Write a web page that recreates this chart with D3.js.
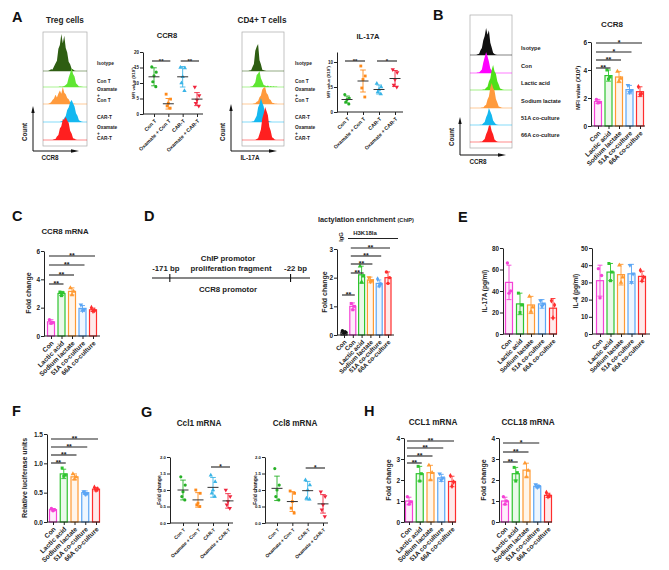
<!DOCTYPE html>
<html><head><meta charset="utf-8">
<script src="https://cdn.jsdelivr.net/npm/d3@7"></script>
<style>
body{margin:0;background:#fff}
svg{display:block;font-family:"Liberation Sans",Arial,Helvetica,sans-serif}
</style></head><body>
<svg id="c" width="669" height="570"></svg>
<script>
// ---------------- DATA ----------------
const groupsA = ["Con T","Oxamate + Con T","CAR-T","Oxamate + CAR-T"];
const groups5 = ["Con","Lactic acid","Sodium lactate","51A co-culture","66A co-culture"];
const groupsD = ["Con","Con","Lactic acid","Sodium lactate","51A co-culture","66A co-culture"];
const tregLabels = [["Isotype"],["Con T"],["Oxamate","+","Con T"],["CAR-T"],["Oxamate","+","CAR-T"]];
const bLabels = [["Isotype"],["Con"],["Lactic acid"],["Sodium lactate"],["51A co-culture"],["66A co-culture"]];

// flow histograms (relative counts per bin, 30 bins)
const tregIso   = [0,0,0,0,0.02,0.05,0.04,0.12,0.2,0.28,0.6,0.7,1.0,0.75,0.95,0.62,0.5,0.25,0.18,0.06,0.04,0.01,0,0,0,0,0,0,0,0];
const tregCon   = [0,0,0,0,0,0,0,0,0,0,0,0.02,0.01,0.03,0.05,0.1,0.18,0.5,0.72,1.0,0.68,0.55,0.2,0.12,0.03,0.03,0.01,0,0,0];
const tregOxCon = [0,0,0,0,0.04,0.1,0.24,0.32,0.55,0.38,0.62,0.8,0.6,1.0,0.66,0.58,0.36,0.28,0.1,0.07,0.02,0.01,0,0,0,0,0,0,0,0];
const tregCar   = [0,0,0,0,0,0,0,0,0,0,0,0,0.03,0.05,0.18,0.27,0.55,0.66,0.9,1.0,0.85,0.7,0.4,0.28,0.08,0.05,0.01,0,0,0];
const tregOxCar = [0,0,0,0,0,0,0,0.03,0.04,0.15,0.22,0.5,0.6,0.9,0.88,1.0,0.85,0.75,0.4,0.28,0.08,0.05,0.01,0,0,0,0,0,0,0];
const cd4Iso    = [0,0,0,0,0,0.02,0.03,0.15,0.26,0.75,0.9,1.0,0.4,0.25,0.05,0.03,0.01,0,0,0,0,0,0,0,0,0,0,0,0,0];
const cd4Con    = [0,0,0,0,0,0,0.03,0.04,0.15,0.3,0.75,0.85,1.0,0.55,0.35,0.12,0.1,0.04,0.09,0.02,0.07,0.02,0.05,0.01,0.03,0,0,0,0,0];
const cd4OxCon  = [0,0,0,0,0,0,0,0,0.03,0.04,0.13,0.18,0.4,0.5,0.85,0.95,1.0,0.65,0.55,0.3,0.24,0.08,0.06,0.02,0.01,0,0,0,0,0];
const cd4Car    = [0,0,0,0,0,0,0,0.02,0.03,0.15,0.26,0.6,0.75,1.0,0.8,0.65,0.3,0.18,0.05,0.03,0.01,0,0,0,0,0,0,0,0,0];
const cd4OxCar  = [0,0,0,0,0,0,0,0,0,0,0.03,0.05,0.18,0.32,0.65,0.8,1.0,0.88,0.75,0.4,0.28,0.08,0.05,0.01,0,0,0,0,0,0];
const bIso      = [0,0,0,0,0,0.03,0.05,0.18,0.26,0.55,0.7,1.0,0.75,0.92,0.45,0.28,0.08,0.04,0.01,0,0,0,0,0,0,0,0,0,0,0];
const bCon      = [0,0,0,0,0,0.02,0.02,0.1,0.17,0.5,0.75,1.0,0.8,0.55,0.22,0.12,0.03,0.01,0,0,0,0,0,0,0,0,0,0,0,0];
const bLactic   = [0,0,0,0,0,0,0,0,0,0.02,0.02,0.09,0.13,0.34,0.46,0.8,1.0,0.75,0.65,0.35,0.22,0.06,0.04,0.01,0,0,0,0,0,0];
const bSodium   = [0,0,0,0,0,0,0,0,0.02,0.02,0.09,0.13,0.34,0.46,0.8,1.0,0.8,0.7,0.36,0.22,0.06,0.04,0.01,0,0,0,0,0,0,0];
const b51A      = [0,0,0,0,0,0,0,0.02,0.02,0.1,0.17,0.45,0.65,1.0,0.8,0.6,0.26,0.14,0.04,0.02,0,0,0,0,0,0,0,0,0,0];
const b66A      = [0,0,0,0,0,0,0,0.02,0.02,0.1,0.17,0.45,0.65,0.95,1.0,0.65,0.45,0.15,0.07,0.02,0,0,0,0,0,0,0,0,0,0];

// A: MFI scatter
const aCcr8Pts  = [[15.2,13.5,12.3,10.4,8.8],[6.4,4.8,3.5,2.6,1.9],[15.0,14.8,12.0,10.0,7.5],[8.7,6.0,4.5,3.5,2.6]];
const aCcr8Mean = [12.0,3.3,12.0,4.8];
const aCcr8Sd   = [2.9,1.7,3.3,2.1];
const aIl17Pts  = [[3.5,2.8,2.5,2.0,1.6],[9.2,7.2,6.5,4.8,3.0],[5.7,5.0,4.5,4.0,3.6],[8.5,7.9,6.5,5.4,5.0]];
const aIl17Mean = [2.5,6.2,4.5,6.7];
const aIl17Sd   = [0.7,2.2,0.9,1.6];
// B: CCR8 MFI
const bMean = [1.75,3.6,3.5,2.6,2.45];
const bSd   = [0.15,0.4,0.4,0.3,0.35];
const bPts  = [[1.9,1.7,1.65],[4.0,3.5,3.35],[3.9,3.4,3.2],[2.9,2.5,2.4],[2.8,2.3,2.25]];
// C: CCR8 mRNA
const cMean = [1.0,3.0,3.15,1.95,1.85];
const cSd   = [0.15,0.15,0.25,0.2,0.12];
const cPts  = [[1.15,0.95,0.9],[3.1,3.05,2.85],[3.4,3.15,2.9],[2.2,1.85,1.8],[2.0,1.8,1.75]];
// D: ChIP
const dMean = [0.1,1.0,2.1,1.92,1.8,2.0];
const dSd   = [0.05,0.12,0.3,0.1,0.12,0.2];
const dPts  = [[0.15,0.1,0.06],[1.1,1.0,0.88],[2.4,2.05,1.85],[2.0,1.9,1.86],[1.95,1.78,1.72],[2.2,2.0,1.8]];
const promoterBp = [-171,-22];
// E: cytokines
const eIl17Mean = [48,28,27,28,24];
const eIl17Sd   = [16,10,8,4,9];
const eIl17Pts  = [[66,40,38],[38,27,20],[35,25,21],[31,28,26],[31,27,15]];
const eIl4Mean  = [31,36,34.5,35,33.5];
const eIl4Sd    = [9,5,6,5.5,3];
const eIl4Pts   = [[38,34,21],[41,36,31],[40,33,30],[40,35,30],[37,33,31]];
// F: luciferase
const fMean = [0.21,0.82,0.77,0.5,0.56];
const fSd   = [0.02,0.08,0.05,0.03,0.03];
const fPts  = [[0.23,0.21,0.19],[0.92,0.8,0.78],[0.82,0.77,0.73],[0.52,0.48,0.47],[0.59,0.56,0.54]];
// G: mouse Ccl1 / Ccl8
const gCcl1Pts  = [[1.4,1.15,0.95,0.8,0.7],[1.0,0.9,0.6,0.55,0.5],[1.45,1.25,1.0,0.9,0.8],[1.0,0.8,0.65,0.55,0.45]];
const gCcl1Mean = [1.0,0.7,1.08,0.67];
const gCcl1Sd   = [0.3,0.22,0.3,0.22];
const gCcl8Pts  = [[1.65,1.15,1.0,0.8,0.7],[0.97,0.9,0.65,0.45,0.3],[1.3,1.15,1.0,0.75,0.72],[0.95,0.8,0.55,0.4,0.2]];
const gCcl8Mean = [1.05,0.65,0.98,0.58];
const gCcl8Sd   = [0.37,0.3,0.28,0.28];
// H: CCL1 / CCL18
const hCcl1Mean  = [1.0,2.3,2.35,2.1,1.93];
const hCcl1Sd    = [0.18,0.35,0.35,0.17,0.25];
const hCcl1Pts   = [[1.2,0.95,0.85],[2.65,2.3,1.95],[2.7,2.35,2.0],[2.3,2.1,2.0],[2.2,1.9,1.7]];
const hCcl18Mean = [1.0,2.3,2.47,1.7,1.27];
const hCcl18Sd   = [0.18,0.3,0.33,0.07,0.1];
const hCcl18Pts  = [[1.2,1.0,0.85],[2.6,2.35,1.95],[2.8,2.45,2.15],[1.78,1.7,1.65],[1.4,1.25,1.2]];

// ---------------- STYLE ----------------
const FONT = '"Liberation Sans", Arial, Helvetica, sans-serif';
const INK = "#222";
const PINK="#f542d6", GREEN="#2fc42f", ORANGE="#ff9a33", BLUE="#5aa5f5", RED="#ff2d2d";
const col5 = [PINK,GREEN,ORANGE,BLUE,RED];
const colA = ["#26b026","#ff8a1a","#3ab4e6","#f0243c"];
const svg = d3.select("#c");

function txt(x,y,s,fs,o={}){
  const t = svg.append("text").attr("x",x).attr("y",y).attr("font-size",fs)
    .attr("font-weight",o.w||"bold").attr("text-anchor",o.a||"middle").attr("fill",o.c||INK).text(s);
  if(o.rot) t.attr("transform",`rotate(${o.rot},${x},${y})`);
  return t;
}
function ylab(cx,cy,s,fs){ return txt(cx+0.36*fs,cy,s,fs,{rot:-90}); }
const shapes = [d3.symbolCircle,d3.symbolSquare,d3.symbolTriangle,"tdown",d3.symbolDiamond,d3.symbolCircle];
function sym(g,shape,x,y,size,color){
  const s = shape==="tdown"?d3.symbolTriangle:shape;
  g.append("path").attr("d",d3.symbol().type(s).size(size)())
   .attr("transform",`translate(${x},${y})`+(shape==="tdown"?" rotate(180)":"")).attr("fill",color);
}

function axes(g,c,x,y){
  const ay = g.append("g").attr("transform",`translate(${c.x0},0)`)
    .call(d3.axisLeft(y).tickValues(c.ticks).tickFormat(c.fmt).tickSize(3).tickSizeOuter(0));
  ay.attr("font-family",FONT).attr("font-size",c.tickFs).attr("font-weight","bold");
  ay.select(".domain").attr("stroke",INK).attr("stroke-width",1);
  ay.selectAll(".tick line").attr("stroke",INK);
  ay.selectAll(".tick text").attr("fill",INK).attr("x",-4);
  const ax = g.append("g").attr("transform",`translate(0,${c.y0})`)
    .call(d3.axisBottom(x).tickSize(3).tickFormat(""));
  ax.select(".domain").remove();
  ax.selectAll(".tick line").attr("stroke",INK);
  g.append("line").attr("x1",c.x0).attr("x2",c.x1).attr("y1",c.y0).attr("y2",c.y0).attr("stroke",INK).attr("stroke-width",1);
  c.cats.forEach((s,i)=>{
    const px = x(i)+1.5, py = c.y0+6;
    g.append("text").attr("x",px).attr("y",py).attr("dy","0.35em").attr("text-anchor","end")
     .attr("font-size",c.catFs).attr("font-weight","bold").attr("fill",INK)
     .attr("transform",`rotate(-45,${px},${py})`).text(s);
  });
  if(c.title) txt(c.tx,c.ty,c.title,c.tfs);
  if(c.ylabel) ylab(c.lx,c.ly,c.ylabel,c.lfs);
  (c.sig||[]).forEach(([i,j,yy,s])=>{
    g.append("line").attr("x1",x(i)-2).attr("x2",x(j)+2).attr("y1",yy).attr("y2",yy).attr("stroke",INK).attr("stroke-width",1.1);
    g.append("text").attr("x",(x(i)+x(j))/2).attr("y",yy+2.4).attr("text-anchor","middle")
     .attr("font-size",c.sigFs||7).attr("font-weight","bold").attr("fill",INK).text(s);
  });
}

function barPanel(c){
  const g = svg.append("g");
  const y = d3.scaleLinear().domain([0,c.max]).range([c.y0,c.yTop]);
  const x = d3.scalePoint().domain(c.cats.map((d,i)=>i)).range([c.c0,c.c1]);
  c.means.forEach((m,i)=>{
    const col = c.colors[i];
    g.append("rect").attr("x",x(i)-c.bw/2).attr("width",c.bw).attr("y",y(m)).attr("height",c.y0-y(m))
     .attr("fill",col).attr("fill-opacity",0.1).attr("stroke",col).attr("stroke-width",1.2);
    const sd=c.sds[i], cw=c.bw*0.35;
    g.append("line").attr("x1",x(i)).attr("x2",x(i)).attr("y1",y(m-sd)).attr("y2",y(m+sd)).attr("stroke",col).attr("stroke-width",0.9);
    [m-sd,m+sd].forEach(v=>g.append("line").attr("x1",x(i)-cw).attr("x2",x(i)+cw).attr("y1",y(v)).attr("y2",y(v)).attr("stroke",col).attr("stroke-width",0.9));
    const offs=[-1.6,1.6,0];
    c.pts[i].forEach((v,k)=>sym(g,shapes[i],x(i)+offs[k],y(v),c.ps||9,col));
  });
  axes(g,c,x,y);
  return {x,y};
}

function scatterPanel(c){
  const g = svg.append("g");
  const y = d3.scaleLinear().domain([0,c.max]).range([c.y0,c.yTop]);
  const x = d3.scalePoint().domain(c.cats.map((d,i)=>i)).range([c.c0,c.c1]);
  const offs=[-2.2,2.2,0,-1.2,1.8];
  c.means.forEach((m,i)=>{
    const col=c.colors[i], sd=c.sds[i];
    c.pts[i].forEach((v,k)=>sym(g,shapes[i],x(i)+offs[k],y(v),c.ps||8,col));
    g.append("line").attr("x1",x(i)).attr("x2",x(i)).attr("y1",y(m-sd)).attr("y2",y(m+sd)).attr("stroke",col).attr("stroke-width",0.9);
    [m-sd,m+sd].forEach(v=>g.append("line").attr("x1",x(i)-2.8).attr("x2",x(i)+2.8).attr("y1",y(v)).attr("y2",y(v)).attr("stroke",col).attr("stroke-width",0.9));
    g.append("line").attr("x1",x(i)-5.5).attr("x2",x(i)+5.5).attr("y1",y(m)).attr("y2",y(m)).attr("stroke","#333").attr("stroke-width",1);
  });
  axes(g,c,x,y);
}

function histPanel(c){
  const g = svg.append("g");
  const x = d3.scaleLinear().domain([0,30]).range([c.x0,c.x1]);
  g.append("rect").attr("x",c.x0).attr("y",c.yTop).attr("width",c.x1-c.x0).attr("height",c.yBot-c.yTop)
   .attr("fill","none").attr("stroke","#aaa").attr("stroke-width",0.7);
  c.rows.forEach(r=>{
    g.append("line").attr("x1",c.x0).attr("x2",c.x1).attr("y1",r.base).attr("y2",r.base)
     .attr("stroke",r.color).attr("stroke-opacity",0.35).attr("stroke-width",1.6);
    const area = d3.area().x((d,i)=>x(i+0.5)).y0(r.base).y1(d=>r.base-d*r.h);
    g.append("path").datum(r.vals).attr("d",area).attr("fill",r.color);
  });
  c.labels.forEach((lines,i)=>{
    const cy = c.labelY[i], n=lines.length;
    lines.forEach((s,k)=>txt(c.lx,cy+(k-(n-1)/2)*c.lsp+0.35*c.lfs,s,c.lfs,{a:"start"}));
  });
  const a=c.arrow;
  g.append("line").attr("x1",a.x).attr("x2",a.x).attr("y1",a.y).attr("y2",a.yTip+5).attr("stroke","#111").attr("stroke-width",1);
  g.append("path").attr("d",`M${a.x-1.7},${a.yTip+7}L${a.x},${a.yTip}L${a.x+1.7},${a.yTip+7}Z`).attr("fill","#111");
  g.append("line").attr("x1",a.x).attr("x2",a.xTip-5).attr("y1",a.y).attr("y2",a.y).attr("stroke","#111").attr("stroke-width",1);
  g.append("path").attr("d",`M${a.xTip-8},${a.y-1.7}L${a.xTip},${a.y}L${a.xTip-8},${a.y+1.7}Z`).attr("fill","#111");
  ylab(a.x-8,a.countY,"Count",6.3);
  txt(a.mx,a.y+8.5,a.marker,6.3);
  if(c.title) txt(c.tx,c.ty,c.title,8.2);
}

// ---------------- PANEL LETTERS ----------------
[["A",12,22],["B",433,20],["C",12,221],["D",144,221],["E",458,222],["F",12,416],["G",141,417],["H",364,416]]
 .forEach(([t,x,y])=>txt(x,y,t,14.5,{a:"start",c:"#111"}));

// ---------------- A ----------------
histPanel({x0:43,x1:87,yTop:32,yBot:146,title:"Treg cells",tx:65,ty:23,
  rows:[{vals:tregIso,color:"#2e5e12",base:71,h:37},{vals:tregCon,color:"#5fe632",base:87,h:19},
        {vals:tregOxCon,color:"#ff9a3c",base:104,h:17},{vals:tregCar,color:"#14b8f0",base:122,h:22},
        {vals:tregOxCar,color:"#ff1f1f",base:140,h:23}],
  labels:tregLabels,labelY:[63,81,95,117,133],lx:97,lfs:4.8,lsp:5.4,
  arrow:{x:33,y:151,yTip:106,xTip:79,countY:132,mx:50,marker:"CCR8"}});
histPanel({x0:242,x1:284,yTop:32,yBot:146,title:"CD4+ T cells",tx:262,ty:23,
  rows:[{vals:cd4Iso,color:"#2e5e12",base:71,h:27},{vals:cd4Con,color:"#5fe632",base:87,h:16},
        {vals:cd4OxCon,color:"#ff9a3c",base:104,h:17},{vals:cd4Car,color:"#14b8f0",base:122,h:24},
        {vals:cd4OxCar,color:"#ff1f1f",base:140,h:33}],
  labels:tregLabels,labelY:[63,81,95,117,133],lx:295,lfs:4.8,lsp:5.4,
  arrow:{x:231,y:151,yTip:104,xTip:277,countY:132,mx:250,marker:"IL-17A"}});
scatterPanel({x0:143,x1:203,c0:154,c1:197,y0:114,yTop:52,max:20,ticks:[0,5,10,15,20],fmt:d3.format("d"),tickFs:4.5,
  cats:groupsA,catFs:5.2,pts:aCcr8Pts,means:aCcr8Mean,sds:aCcr8Sd,colors:colA,
  title:"CCR8",tx:167,ty:38,tfs:7.6,ylabel:"MFI value (X10³)",lx:133,ly:83,lfs:4.2,
  sig:[[0,1,61,"**"],[2,3,61,"**"]],sigFs:6});
scatterPanel({x0:337,x1:403,c0:347,c1:395,y0:112,yTop:52,max:12,ticks:[0,5,10],fmt:d3.format("d"),tickFs:4.5,
  cats:groupsA,catFs:5.2,pts:aIl17Pts,means:aIl17Mean,sds:aIl17Sd,colors:colA,
  title:"IL-17A",tx:368,ty:39,tfs:7.6,ylabel:"MFI value (X10³)",lx:328,ly:82,lfs:4.2,
  sig:[[0,1,61,"**"],[2,3,61,"*"]],sigFs:6});

// ---------------- B ----------------
histPanel({x0:470,x1:512,yTop:15,yBot:148,
  rows:[{vals:bIso,color:"#111",base:55,h:27},{vals:bCon,color:"#ff00ff",base:73,h:21},
        {vals:bLactic,color:"#4ee01a",base:90,h:25},{vals:bSodium,color:"#ff9a3c",base:108,h:25},
        {vals:b51A,color:"#14b8f0",base:125,h:17},{vals:b66A,color:"#ff1f1f",base:142,h:17}],
  labels:bLabels,labelY:[48,66,83,101,118,135],lx:521,lfs:5.6,lsp:5,
  arrow:{x:460,y:155,yTip:117,xTip:506,countY:137,mx:478,marker:"CCR8"}});
barPanel({x0:591,x1:645,c0:598,c1:640,y0:126,yTop:42,max:6,ticks:[0,2,4,6],fmt:d3.format("d"),tickFs:6.5,bw:7,
  cats:groups5,catFs:6.5,means:bMean,sds:bSd,pts:bPts,colors:col5,
  title:"CCR8",tx:612,ty:27,tfs:8,ylabel:"MFI value (X10³)",lx:578,ly:88,lfs:5.8,
  sig:[[0,1,68,"**"],[0,2,60,"**"],[0,3,52,"*"],[0,4,43,"*"]]});

// ---------------- C ----------------
barPanel({x0:44,x1:100,c0:51,c1:93,y0:336,yTop:251,max:6,ticks:[0,2,4,6],fmt:d3.format("d"),tickFs:6.5,bw:7,
  cats:groups5,catFs:6.6,means:cMean,sds:cSd,pts:cPts,colors:col5,
  title:"CCR8 mRNA",tx:65,ty:234,tfs:7.8,ylabel:"Fold change",lx:28,ly:293,lfs:7,
  sig:[[0,1,284,"**"],[0,2,275,"**"],[0,3,265,"**"],[0,4,256,"**"]]});

// ---------------- D ----------------
(function(){
  const bp = d3.scaleLinear().domain([-193,2]).range([152,310]);
  const yL = 278;
  svg.append("line").attr("x1",bp(-193)).attr("x2",bp(2)).attr("y1",yL).attr("y2",yL).attr("stroke","#111").attr("stroke-width",1.1);
  promoterBp.forEach(v=>svg.append("line").attr("x1",bp(v)).attr("x2",bp(v)).attr("y1",yL-4).attr("y2",yL+4).attr("stroke","#111").attr("stroke-width",1.1));
  txt(bp(promoterBp[0])-4,270.5,"-171 bp",7.8);
  txt(bp(promoterBp[1])+5,270.5,"-22 bp",7.8);
  txt(228,260.5,"ChIP promotor",7.8);
  txt(231,270.5,"proliferation fragment",7.8);
  txt(228,292,"CCR8 promotor",7.8);
})();
barPanel({x0:337,x1:394,c0:344,c1:388,y0:335,yTop:249,max:3,ticks:[0,1,2,3],fmt:d3.format("d"),tickFs:6.5,bw:6,
  cats:groupsD,catFs:6.3,means:dMean,sds:dSd,pts:dPts,colors:["#111",PINK,GREEN,ORANGE,BLUE,RED],
  ylabel:"Fold change",lx:324,ly:292,lfs:7,
  sig:[[0,1,295,"**"],[1,2,273,"**"],[1,3,264,"**"],[1,4,256,"**"],[1,5,248,"**"]]});
(function(){
  const t = txt(318,221.5,"lactylation enrichment ",7.3,{a:"start"});
  t.append("tspan").attr("font-size",5.6).text("(ChIP)");
  ylab(341,237,"IgG",5.8);
  txt(365,235,"H3K18la",6);
  svg.append("line").attr("x1",348).attr("x2",398).attr("y1",238.5).attr("y2",238.5).attr("stroke",INK).attr("stroke-width",1.1);
})();

// ---------------- E ----------------
barPanel({x0:503,x1:557,c0:509,c1:553,y0:334,yTop:248,max:80,ticks:[0,20,40,60,80],fmt:d3.format("d"),tickFs:6.3,bw:7,
  cats:groups5,catFs:6.3,means:eIl17Mean,sds:eIl17Sd,pts:eIl17Pts,colors:col5,
  ylabel:"IL-17A (pg/ml)",lx:485,ly:291,lfs:6.4});
barPanel({x0:592,x1:650,c0:600,c1:642,y0:334,yTop:248,max:50,ticks:[0,10,20,30,40,50],fmt:d3.format("d"),tickFs:6.3,bw:7,
  cats:groups5,catFs:6.3,means:eIl4Mean,sds:eIl4Sd,pts:eIl4Pts,colors:col5,
  ylabel:"IL-4 (pg/ml)",lx:576,ly:291,lfs:6.4});

// ---------------- F ----------------
barPanel({x0:47,x1:100,c0:53,c1:96,y0:522,yTop:434,max:1.5,ticks:[0,0.5,1,1.5],fmt:d3.format(".1f"),tickFs:6.5,bw:7,
  cats:groups5,catFs:6.6,means:fMean,sds:fSd,pts:fPts,colors:col5,
  ylabel:"Relative luciferase units",lx:24,ly:478,lfs:7,
  sig:[[0,1,463,"**"],[0,2,455,"**"],[0,3,447,"**"],[0,4,439,"**"]]});

// ---------------- G ----------------
scatterPanel({x0:170,x1:233,c0:183,c1:228,y0:523,yTop:457,max:2,ticks:[0,0.5,1,1.5,2],fmt:d3.format(".1f"),tickFs:4.3,
  cats:groupsA,catFs:4.8,pts:gCcl1Pts,means:gCcl1Mean,sds:gCcl1Sd,colors:colA,
  title:"Ccl1 mRNA",tx:199,ty:426,tfs:8.2,ylabel:"Fold change",lx:159,ly:490,lfs:5,
  sig:[[2,3,467,"*"]],sigFs:6.5});
scatterPanel({x0:265,x1:328,c0:277,c1:323,y0:523,yTop:457,max:2,ticks:[0,0.5,1,1.5,2],fmt:d3.format(".1f"),tickFs:4.3,
  cats:groupsA,catFs:4.8,pts:gCcl8Pts,means:gCcl8Mean,sds:gCcl8Sd,colors:colA,
  title:"Ccl8 mRNA",tx:295,ty:426,tfs:8.2,ylabel:"Fold change",lx:255,ly:490,lfs:5,
  sig:[[2,3,468,"*"]],sigFs:6.5});

// ---------------- H ----------------
barPanel({x0:404,x1:456,c0:409,c1:452,y0:522,yTop:438,max:4,ticks:[0,1,2,3,4],fmt:d3.format("d"),tickFs:6.5,bw:7,
  cats:groups5,catFs:6.6,means:hCcl1Mean,sds:hCcl1Sd,pts:hCcl1Pts,colors:col5,
  title:"CCL1 mRNA",tx:433,ty:425,tfs:8.2,ylabel:"Fold change",lx:388,ly:480,lfs:7,
  sig:[[0,1,463,"**"],[0,2,456,"**"],[0,3,448,"**"],[0,4,441,"**"]]});
barPanel({x0:499,x1:552,c0:505,c1:548,y0:522,yTop:438,max:4,ticks:[0,1,2,3,4],fmt:d3.format("d"),tickFs:6.5,bw:7,
  cats:groups5,catFs:6.6,means:hCcl18Mean,sds:hCcl18Sd,pts:hCcl18Pts,colors:col5,
  title:"CCL18 mRNA",tx:528,ty:425,tfs:8.2,ylabel:"Fold change",lx:483,ly:480,lfs:7,
  sig:[[0,1,462,"**"],[0,2,452,"**"],[0,3,443,"*"]]});
</script>
</body></html>
